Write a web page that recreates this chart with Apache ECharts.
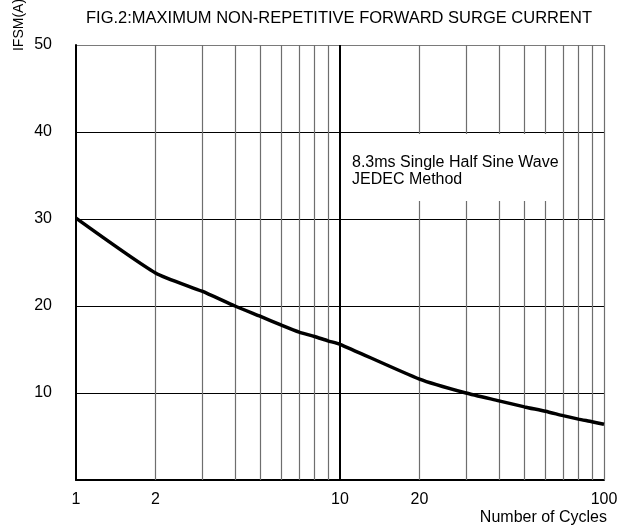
<!DOCTYPE html>
<html>
<head>
<meta charset="utf-8">
<script src="https://cdn.jsdelivr.net/npm/echarts@6/dist/echarts.min.js"></script>
<style>
  html, body { margin: 0; padding: 0; background: #fff; }
  #chart { width: 622px; height: 531px; }
</style>
</head>
<body>
<div id="chart"></div>
<script>
// ---- data ----
const cycles = [1, 2, 3, 4, 5, 6, 7, 8, 9, 10, 20, 30, 40, 50, 60, 70, 80, 90, 100];
const ifsm   = [30.1, 23.8, 21.7, 20.0, 18.8, 17.8, 17.0, 16.5, 16.0, 15.6, 11.6, 10.0, 9.1, 8.4, 7.9, 7.4, 7.0, 6.7, 6.4];
const xLabelValues = [1, 2, 10, 20, 100];
const minorGridX = [2, 3, 4, 5, 6, 7, 8, 9, 20, 30, 40, 50, 60, 70, 80, 90, 100];
const majorGridX = [10];
const titleText = 'FIG.2:MAXIMUM NON-REPETITIVE FORWARD SURGE CURRENT';
const yName = 'IFSM(A)';
const xName = 'Number of Cycles';
const noteLines = ['8.3ms Single Half Sine Wave', 'JEDEC Method'];

const FONT = '"Liberation Sans", Arial, sans-serif';

const chart = echarts.init(document.getElementById('chart'), null, { renderer: 'canvas' });

const markData = minorGridX.map(v => ({ xAxis: v, lineStyle: { color: '#6e6e6e', width: 1.2, type: 'solid' } }))
  .concat(majorGridX.map(v => ({ xAxis: v, lineStyle: { color: '#000', width: 2, type: 'solid' } })));

chart.setOption({
  animation: false,
  backgroundColor: '#fff',
  title: {
    text: titleText,
    left: 81,
    top: 5,
    textStyle: { fontFamily: FONT, fontSize: 16.5, fontWeight: 'normal', color: '#000' }
  },
  grid: { left: 76, right: 18, top: 45, bottom: 51, containLabel: false },
  xAxis: {
    type: 'log',
    logBase: 10,
    min: 1,
    max: 100,
    name: xName,
    nameLocation: 'end',
    nameGap: 3,
    nameTextStyle: { fontFamily: FONT, fontSize: 16, color: '#000', align: 'right', verticalAlign: 'top', padding: [30, 0, 0, 0] },
    axisLine: { show: true, lineStyle: { color: '#000', width: 2 } },
    axisTick: { show: false },
    splitLine: { show: false },
    minorSplitLine: { show: false },
    axisLabel: {
      customValues: xLabelValues,
      margin: 12,
      fontFamily: FONT, fontSize: 16, color: '#000',
      formatter: v => String(v)
    }
  },
  yAxis: {
    type: 'value',
    min: 0,
    max: 50,
    interval: 10,
    axisLine: { show: true, lineStyle: { color: '#000', width: 2 } },
    axisTick: { show: false },
    splitLine: { show: true, lineStyle: { color: ['#000', '#000', '#000', '#000', '#000', '#7a7a7a'], width: 1.2 } },
    axisLabel: {
      margin: 24,
      padding: [6, 0, 0, 0],
      fontFamily: FONT, fontSize: 16, color: '#000',
      formatter: v => (v === 0 ? '' : String(v))
    }
  },
  graphic: [
    {
      type: 'rect',
      z: 100,
      shape: { x: 342, y: 134, width: 218, height: 67 },
      style: { fill: '#fff', stroke: null }
    },
    {
      type: 'text',
      z: 101,
      x: 352,
      y: 154,
      style: {
        text: noteLines.join('\n'),
        fontFamily: FONT, fontSize: 16, lineHeight: 17,
        fill: '#000'
      }
    },
    {
      type: 'text',
      z: 101,
      x: 19,
      y: 25,
      rotation: Math.PI / 2,
      style: {
        text: yName,
        fontFamily: FONT, fontSize: 14,
        fill: '#000',
        align: 'center', verticalAlign: 'middle',
        textAlign: 'center', textVerticalAlign: 'middle'
      }
    }
  ],
  series: [{
    type: 'line',
    data: cycles.map((c, i) => [c, ifsm[i]]),
    showSymbol: false,
    smooth: 0.2,
    lineStyle: { color: '#000', width: 3.5 },
    z: 5,
    markLine: {
      silent: true,
      symbol: 'none',
      label: { show: false },
      z: 1,
      data: markData
    }
  }]
});
</script>
</body>
</html>
